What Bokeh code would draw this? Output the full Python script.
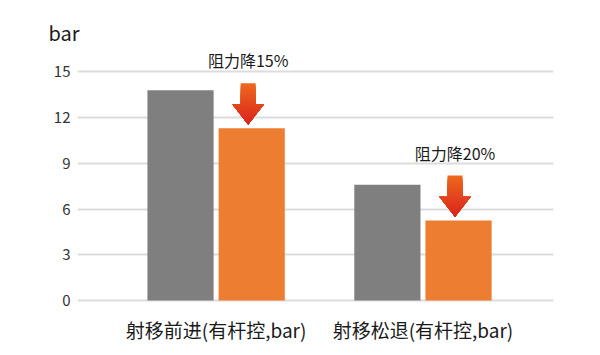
from bokeh.plotting import figure
from bokeh.models import ColumnDataSource, FixedTicker, Range1d
from bokeh.core.properties import value
from bokeh.embed import file_html
from bokeh.resources import INLINE

categories = ["射移前进(有杆控,bar)", "射移松退(有杆控,bar)"]
before = [13.8, 7.6]
after = [11.3, 5.25]
drops = ["阻力降15%", "阻力降20%"]
y_ticks = [0, 3, 6, 9, 12, 15]
unit = "bar"

FONT = "Noto Sans CJK SC"
GRAY = "#7f7f7f"
ORANGE = "#ed7d31"

groups = list(range(1, len(categories) + 1))
off = 0.172
bw = 0.32

p = figure(width=600, height=355, output_backend="svg", toolbar_location=None,
           x_range=Range1d(0.330, 2.631), y_range=Range1d(-0.2, 16.8),
           min_border_left=77, min_border_right=47, min_border_top=44, min_border_bottom=52,
           title=unit)
p.outline_line_color = None
p.background_fill_color = "white"
p.border_fill_color = "white"

p.title.text_font = FONT
p.title.text_font_size = "20px"
p.title.text_font_style = "normal"
p.title.text_color = "#1a1a1a"
p.title.align = "left"
p.title.offset = 48 - 77
p.title.standoff = -5

p.xgrid.grid_line_color = None
p.ygrid.grid_line_color = "#dcdcdc"
p.ygrid.grid_line_width = 2
p.yaxis.ticker = FixedTicker(ticks=y_ticks)
p.xaxis.ticker = FixedTicker(ticks=groups)
p.xaxis.major_label_overrides = {g: c for g, c in zip(groups, categories)}

for ax in (p.xaxis, p.yaxis):
    ax.axis_line_color = None
    ax.major_tick_line_color = None
    ax.minor_tick_line_color = None
    ax.major_label_text_font = FONT

p.yaxis.major_label_text_font_size = "15px"
p.yaxis.major_label_text_color = "#333333"
p.yaxis.major_label_standoff = 1
p.xaxis.major_label_text_font_size = "19px"
p.xaxis.major_label_text_color = "#1a1a1a"
p.xaxis.major_label_standoff = 6

src = ColumnDataSource(dict(
    xg=[g - off for g in groups], xo=[g + off for g in groups],
    before=before, after=after))
p.vbar(x="xg", top="before", bottom=0, width=bw, source=src, fill_color=GRAY, line_color=None)
p.vbar(x="xo", top="after", bottom=0, width=bw, source=src, fill_color=ORANGE, line_color=None)

# gradient arrows above the orange bars (stacked layers, no seams)
c_top = (236, 104, 30)
c_bot = (218, 36, 28)
length = 2.7
head_h = 1.31
hw = 0.076
sw = 0.036
xs, ys, cols = [], [], []
n_layers = 24
for g, a in zip(groups, after):
    cx = g + off - 0.017
    tip = a + 0.25
    top = tip + length
    hb = tip + head_h

    for i in range(n_layers):
        yc = top - length * i / n_layers
        t = i / (n_layers - 1)
        c = "#%02x%02x%02x" % tuple(int(round(c_top[k] + (c_bot[k] - c_top[k]) * t)) for k in range(3))
        if yc > hb:
            px = [cx - sw, cx + sw, cx + sw, cx + hw, cx, cx - hw, cx - sw]
            py = [yc, yc, hb, hb, tip, hb, hb]
        else:
            w = hw * (yc - tip) / head_h
            px = [cx - w, cx + w, cx]
            py = [yc, yc, tip]
        xs.append(px)
        ys.append(py)
        cols.append(c)

p.patches(xs=xs, ys=ys, fill_color=cols, line_color=None)

# drop labels
txt = ColumnDataSource(dict(x=[g + off - 0.017 for g in groups],
                            y=[a + 0.25 + length + 1.5 for a in after], t=drops))
p.text(x="x", y="y", text="t", source=txt, text_font=value(FONT), text_font_size="16px",
       text_align="center", text_baseline="middle", text_color="#1a1a1a")

open("out.html", "w").write(file_html(p, INLINE))
